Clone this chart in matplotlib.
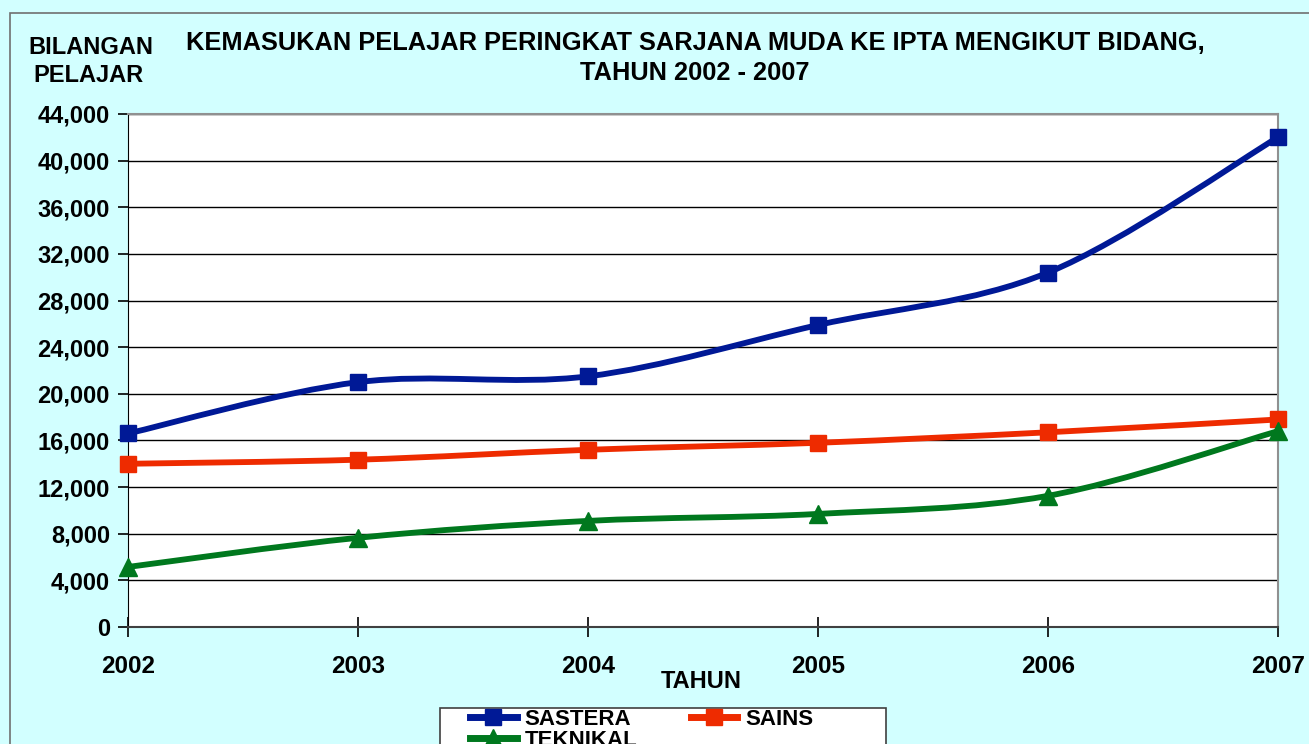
import numpy as np
import matplotlib.pyplot as plt
from matplotlib.path import Path
from matplotlib.patches import PathPatch, Rectangle
from matplotlib.lines import Line2D
from matplotlib.ticker import MultipleLocator, FuncFormatter

plt.rcParams['font.family'] = ['Liberation Sans', 'DejaVu Sans']
plt.rcParams['font.weight'] = 'bold'

years = [2002, 2003, 2004, 2005, 2006, 2007]
sastera = [16600, 21000, 21500, 25900, 30400, 42000]
sains = [14000, 14350, 15200, 15800, 16700, 17800]
teknikal = [5150, 7650, 9100, 9700, 11250, 16800]

c_sastera = '#001996'
c_sains = '#EE2B00'
c_teknikal = '#00781E'


def smooth_path(x, y):
    # excel style smoothed line: bezier segments through every point
    x = np.asarray(x, float)
    y = np.asarray(y, float)
    n = len(x)
    verts = [(x[0], y[0])]
    codes = [Path.MOVETO]
    for i in range(n - 1):
        p0 = np.array([x[max(i - 1, 0)], y[max(i - 1, 0)]])
        p1 = np.array([x[i], y[i]])
        p2 = np.array([x[i + 1], y[i + 1]])
        p3 = np.array([x[min(i + 2, n - 1)], y[min(i + 2, n - 1)]])
        c1 = p1 + (p2 - p0) / 6.0
        c2 = p2 - (p3 - p1) / 6.0
        verts += [tuple(c1), tuple(c2), tuple(p2)]
        codes += [Path.CURVE4] * 3
    return Path(verts, codes)


W, H = 1309, 744
fig = plt.figure(figsize=(W / 100, H / 100), dpi=100)
fig.patch.set_facecolor('#D2FFFF')
# outer chart border
fig.patches.append(Rectangle((10 / W, -0.01), 1.0, 1 - 13 / H + 0.01,
                             transform=fig.transFigure, fill=False,
                             edgecolor='#707070', linewidth=1.2))
# legend box
fig.patches.append(Rectangle((440 / W, -0.01), (886 - 440) / W, 0.01 + 1 - 708 / H,
                             transform=fig.transFigure, facecolor='white',
                             edgecolor='#404040', linewidth=1.2))

ax = fig.add_axes([128 / W, 1 - 627 / H, (1278 - 128) / W, (627 - 114) / H])
ax.set_facecolor('white')

series = [('SASTERA', sastera, c_sastera, 's', 12),
          ('SAINS', sains, c_sains, 's', 12),
          ('TEKNIKAL', teknikal, c_teknikal, '^', 13)]
handles = {}
for name, vals, col, mk, ms in series:
    ax.add_patch(PathPatch(smooth_path(years, vals), facecolor='none',
                           edgecolor=col, linewidth=4.2, zorder=3,
                           capstyle='round', clip_on=False))
    ax.plot(years, vals, linestyle='none', marker=mk, markersize=ms,
            color=col, zorder=4, clip_on=False)
    handles[name] = Line2D([], [], color=col, linewidth=5, marker=mk,
                           markersize=ms, label=name)

ax.set_xlim(2002, 2007)
ax.set_ylim(0, 44000)
ax.set_xticks(years)
ax.yaxis.set_major_locator(MultipleLocator(4000))
ax.yaxis.set_major_formatter(FuncFormatter(lambda v, p: f'{int(v):,}'))
ax.grid(axis='y', color='black', linewidth=1)
ax.set_axisbelow(True)

for s in ['top', 'right']:
    ax.spines[s].set_color('#909090')
    ax.spines[s].set_linewidth(1.5)
ax.spines['left'].set_color('black')
ax.spines['bottom'].set_color('#404040')
ax.spines['bottom'].set_linewidth(1.5)

ax.tick_params(axis='y', direction='out', length=7, width=1.2, pad=6, labelsize=17)
ax.tick_params(axis='x', direction='inout', length=14, width=1.2, pad=13, labelsize=17.5)
for lab in ax.get_xticklabels() + ax.get_yticklabels():
    lab.set_fontweight('bold')

fig.text(695 / W, 1 - 43 / H,
         'KEMASUKAN PELAJAR PERINGKAT SARJANA MUDA KE IPTA MENGIKUT BIDANG,',
         ha='center', va='center', fontsize=18.3, fontweight='bold')
fig.text(695 / W, 1 - 73 / H, 'TAHUN 2002 - 2007',
         ha='center', va='center', fontsize=18.3, fontweight='bold')
fig.text(91 / W, 1 - 47 / H, 'BILANGAN', ha='center', va='center',
         fontsize=17, fontweight='bold')
fig.text(88 / W, 1 - 75 / H, 'PELAJAR', ha='center', va='center',
         fontsize=17, fontweight='bold')
fig.text(701 / W, 1 - 682 / H, 'TAHUN', ha='center', va='center',
         fontsize=17, fontweight='bold')

# column-major fill: first column SASTERA / TEKNIKAL, second column SAINS
order = ['SASTERA', 'TEKNIKAL', 'SAINS']
leg = fig.legend(handles=[handles[k] for k in order], loc='upper left',
                 bbox_to_anchor=(470 / W, 1 - 709 / H), ncol=2,
                 frameon=False, fontsize=16,
                 handlelength=2.1, columnspacing=2.4, borderpad=0.0,
                 labelspacing=0.0, handletextpad=0.35, borderaxespad=0)
for t in leg.get_texts():
    t.set_fontweight('bold')

fig.savefig('out.png', dpi=100, facecolor=fig.get_facecolor())
